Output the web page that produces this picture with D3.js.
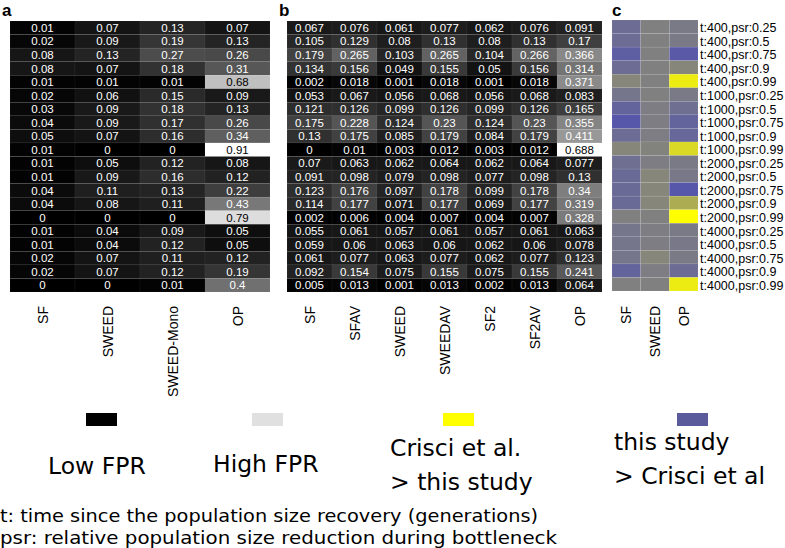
<!DOCTYPE html>
<html>
<head>
<meta charset="utf-8">
<script src="https://cdn.jsdelivr.net/npm/d3@7"></script>
<style>
  body { margin: 0; background: #fff; }
  svg { display: block; }
</style>
</head>
<body>
<svg id="chart" width="785" height="548"></svg>
<script>
// panel a: FPR, 20 scenarios x 4 methods
var colsA = ["SF", "SWEED", "SWEED-Mono", "OP"]
var valsA = [
  [0.01, 0.07, 0.13, 0.07],
  [0.02, 0.09, 0.19, 0.13],
  [0.08, 0.13, 0.27, 0.26],
  [0.08, 0.07, 0.18, 0.31],
  [0.01, 0.01, 0.01, 0.68],
  [0.02, 0.06, 0.15, 0.09],
  [0.03, 0.09, 0.18, 0.13],
  [0.04, 0.09, 0.17, 0.26],
  [0.05, 0.07, 0.16, 0.34],
  [0.01, 0, 0, 0.91],
  [0.01, 0.05, 0.12, 0.08],
  [0.01, 0.09, 0.16, 0.12],
  [0.04, 0.11, 0.13, 0.22],
  [0.04, 0.08, 0.11, 0.43],
  [0, 0, 0, 0.79],
  [0.01, 0.04, 0.09, 0.05],
  [0.01, 0.04, 0.12, 0.05],
  [0.02, 0.07, 0.11, 0.12],
  [0.02, 0.07, 0.12, 0.19],
  [0, 0, 0.01, 0.4]
]

// panel b: FPR, 20 scenarios x 7 methods
var colsB = ["SF", "SFAV", "SWEED", "SWEEDAV", "SF2", "SF2AV", "OP"]
var valsB = [
  [0.067, 0.076, 0.061, 0.077, 0.062, 0.076, 0.091],
  [0.105, 0.129, 0.08, 0.13, 0.08, 0.13, 0.17],
  [0.179, 0.265, 0.103, 0.265, 0.104, 0.266, 0.366],
  [0.134, 0.156, 0.049, 0.155, 0.05, 0.156, 0.314],
  [0.002, 0.018, 0.001, 0.018, 0.001, 0.018, 0.371],
  [0.053, 0.067, 0.056, 0.068, 0.056, 0.068, 0.083],
  [0.121, 0.126, 0.099, 0.126, 0.099, 0.126, 0.165],
  [0.175, 0.228, 0.124, 0.23, 0.124, 0.23, 0.355],
  [0.13, 0.175, 0.085, 0.179, 0.084, 0.179, 0.411],
  [0, 0.01, 0.003, 0.012, 0.003, 0.012, 0.688],
  [0.07, 0.063, 0.062, 0.064, 0.062, 0.064, 0.077],
  [0.091, 0.098, 0.079, 0.098, 0.077, 0.098, 0.13],
  [0.123, 0.176, 0.097, 0.178, 0.099, 0.178, 0.34],
  [0.114, 0.177, 0.071, 0.177, 0.069, 0.177, 0.319],
  [0.002, 0.006, 0.004, 0.007, 0.004, 0.007, 0.328],
  [0.055, 0.061, 0.057, 0.061, 0.057, 0.061, 0.063],
  [0.059, 0.06, 0.063, 0.06, 0.062, 0.06, 0.078],
  [0.061, 0.077, 0.063, 0.077, 0.062, 0.077, 0.123],
  [0.092, 0.154, 0.075, 0.155, 0.075, 0.155, 0.241],
  [0.005, 0.013, 0.001, 0.013, 0.002, 0.013, 0.064]
]

// panel c: comparison with Crisci et al (-1 = this study higher, +1 = Crisci higher)
var colsC = ["SF", "SWEED", "OP"]
var valsC = [
  [-0.35, 0, -0.1],
  [-0.35, 0, -0.1],
  [-0.6, 0, -0.7],
  [-0.35, 0, 0.05],
  [0.05, 0, 0.85],
  [-0.2, 0, -0.1],
  [-0.5, -0.05, -0.3],
  [-0.75, -0.05, -0.5],
  [-0.35, -0.05, -0.45],
  [0.05, 0.02, 0.7],
  [-0.3, -0.05, -0.1],
  [-0.4, 0.05, -0.15],
  [-0.4, 0.05, -0.75],
  [-0.4, 0.05, 0.35],
  [0, 0, 1],
  [-0.2, -0.05, -0.1],
  [-0.2, -0.05, -0.15],
  [-0.2, 0.05, -0.1],
  [-0.5, -0.05, -0.35],
  [0, 0, 0.85]
]

var times = [400, 1000, 2000, 4000]
var psrs = [0.25, 0.5, 0.75, 0.9, 0.99]
var rowLabels = []
times.forEach(t => psrs.forEach(p => rowLabels.push("t:" + t + ",psr:" + p)))

var legendItems = [
  { color: "#000000", lines: ["Low FPR"], x: 48, sq: 86, y0: 474 },
  { color: "#e0e0e0", lines: ["High FPR"], x: 213, sq: 252, y0: 472 },
  { color: "#ffff00", lines: ["Crisci et al.", "> this study"], x: 390, sq: 443, y0: 456 },
  { color: "#5b5b9b", lines: ["this study", "> Crisci et al"], x: 614, sq: 677, y0: 450 }
]

var footnotes = [
  "t: time since the population size recovery (generations)",
  "psr: relative population size reduction during bottleneck"
]
var footWidths = [538, 557]

const svg = d3.select("#chart")
const gridTop = 21, gridBottom = 292

const y = d3.scaleBand()
  .domain(d3.range(rowLabels.length))
  .range([gridTop, gridBottom])

function grayPanel(cols, vals, x0, x1, label, fontFam) {
  const g = svg.append("g")
  const x = d3.scaleBand().domain(cols).range([x0, x1])
  const maxV = d3.max(vals, r => d3.max(r))
  const grey = d3.scaleLinear().domain([0, maxV]).range(["#000000", "#ffffff"])

  const cells = []
  vals.forEach((r, i) => r.forEach((v, j) => cells.push({ i: i, c: cols[j], v: v })))

  g.selectAll("rect")
    .data(cells)
    .join("rect")
    .attr("x", d => x(d.c))
    .attr("y", d => y(d.i))
    .attr("width", x.bandwidth())
    .attr("height", y.bandwidth())
    .attr("fill", d => grey(d.v))
    .attr("stroke", "rgba(255,255,255,0.08)")
    .attr("stroke-width", 0.5)

  g.selectAll("text.val")
    .data(cells)
    .join("text")
    .attr("class", "val")
    .attr("x", d => x(d.c) + x.bandwidth() / 2)
    .attr("y", d => y(d.i) + y.bandwidth() / 2)
    .attr("dy", "0.36em")
    .attr("text-anchor", "middle")
    .style("font-family", fontFam)
    .style("font-size", "11.5px")
    .attr("fill", d => d.v / maxV > 0.65 ? "#000" : "#fff")
    .text(d => String(d.v))

  colLabels(g, x, cols)
  panelLetter(label, x0 - 8)
}

function colLabels(g, x, cols) {
  g.selectAll("text.col")
    .data(cols)
    .join("text")
    .attr("class", "col")
    .attr("transform", d => "translate(" + (x(d) + x.bandwidth() / 2) + ",306) rotate(-90)")
    .attr("text-anchor", "end")
    .attr("dy", "0.36em")
    .style("font-family", "'Liberation Sans', Arial, sans-serif")
    .style("font-size", "14px")
    .text(d => d)
}

function panelLetter(t, xp) {
  svg.append("text")
    .attr("x", xp)
    .attr("y", 16)
    .style("font-family", "'Liberation Sans', Arial, sans-serif")
    .style("font-weight", "bold")
    .style("font-size", "17px")
    .text(t)
}

grayPanel(colsA, valsA, 10, 270, "a", "'Liberation Sans Narrow', 'Liberation Sans', Arial, sans-serif")
grayPanel(colsB, valsB, 287, 602, "b", "'Liberation Sans', Arial, sans-serif")

// panel c
const gc = svg.append("g")
const xc = d3.scaleBand().domain(colsC).range([612, 698])
const diverge = d3.scaleLinear().domain([-1, 0, 1]).range(["#4848b8", "#808080", "#ffff00"])
const cellsC = []
valsC.forEach((r, i) => r.forEach((v, j) => cellsC.push({ i: i, c: colsC[j], v: v })))

gc.selectAll("rect")
  .data(cellsC)
  .join("rect")
  .attr("x", d => xc(d.c))
  .attr("y", d => y(d.i) - 1)
  .attr("width", xc.bandwidth())
  .attr("height", y.bandwidth())
  .attr("fill", d => diverge(d.v))
  .attr("stroke", "rgba(255,255,255,0.15)")
  .attr("stroke-width", 0.5)

gc.selectAll("text.row")
  .data(rowLabels)
  .join("text")
  .attr("class", "row")
  .attr("x", 700)
  .attr("y", (d, i) => y(i) + y.bandwidth() / 2)
  .attr("dy", "0.36em")
  .style("font-family", "'Liberation Sans', Arial, sans-serif")
  .style("font-size", "12.5px")
  .text(d => d)

colLabels(gc, xc, colsC)
panelLetter("c", 612)

// legend
const lg = svg.append("g")
legendItems.forEach(it => {
  lg.append("rect")
    .attr("x", it.sq).attr("y", 413)
    .attr("width", 31).attr("height", 13)
    .attr("fill", it.color)
  it.lines.forEach((ln, k) => {
    lg.append("text")
      .attr("x", it.x)
      .attr("y", it.y0 + k * 34)
      .style("font-family", "'DejaVu Sans', sans-serif")
      .style("font-size", "23.5px")
      .text(ln)
  })
})

svg.selectAll("text.foot")
  .data(footnotes)
  .join("text")
  .attr("class", "foot")
  .attr("x", 0)
  .attr("y", (d, i) => 522 + i * 22)
  .attr("textLength", (d, i) => footWidths[i])
  .attr("lengthAdjust", "spacingAndGlyphs")
  .style("font-family", "'DejaVu Sans', sans-serif")
  .style("font-size", "18px")
  .text(d => d)
</script>
</body>
</html>
